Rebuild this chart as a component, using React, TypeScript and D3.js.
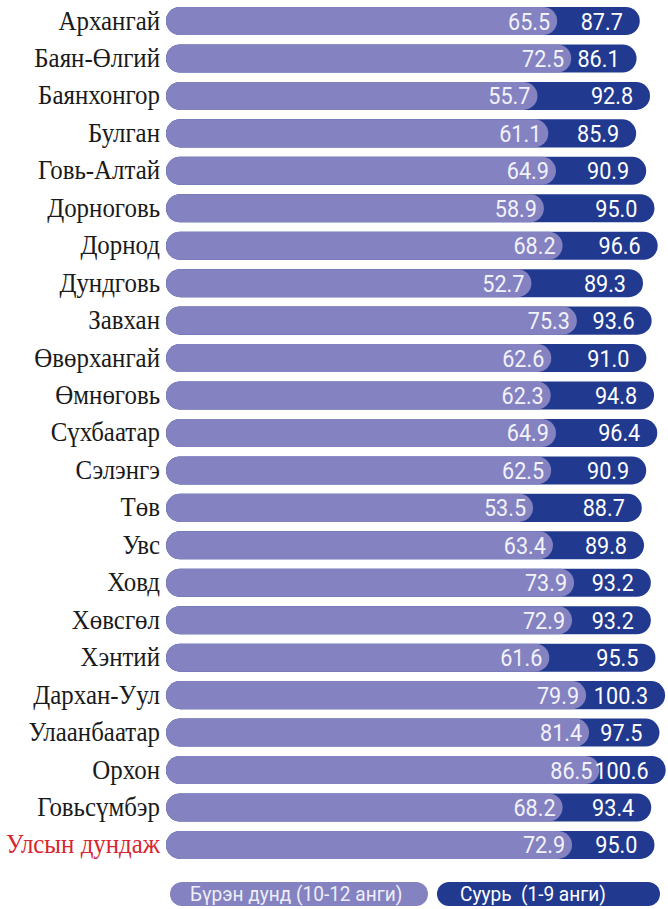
import React from "react";
import * as d3 from "d3";

const regions = [
  "Архангай", "Баян-Өлгий", "Баянхонгор", "Булган", "Говь-Алтай", "Дорноговь",
  "Дорнод", "Дундговь", "Завхан", "Өвөрхангай", "Өмнөговь", "Сүхбаатар",
  "Сэлэнгэ", "Төв", "Увс", "Ховд", "Хөвсгөл", "Хэнтий", "Дархан-Уул",
  "Улаанбаатар", "Орхон", "Говьсүмбэр", "Улсын дундаж",
];
const fullSecondary = [
  65.5, 72.5, 55.7, 61.1, 64.9, 58.9, 68.2, 52.7, 75.3, 62.6, 62.3, 64.9,
  62.5, 53.5, 63.4, 73.9, 72.9, 61.6, 79.9, 81.4, 86.5, 68.2, 72.9,
];
const basic = [
  87.7, 86.1, 92.8, 85.9, 90.9, 95.0, 96.6, 89.3, 93.6, 91.0, 94.8, 96.4,
  90.9, 88.7, 89.8, 93.2, 93.2, 95.5, 100.3, 97.5, 100.6, 93.4, 95.0,
];
const seriesNames = ["Бүрэн дунд (10-12 анги)", "Суурь  (1-9 анги)"];
const highlight = "Улсын дундаж";

const W = 668;
const H = 909;
const LIGHT = "#8482c1";
const DARK = "#21398f";

export default function App() {
  const plotLeft = 166;
  const step = 37.45;
  const y = d3
    .scaleBand<string>()
    .domain(regions)
    .range([2.3, 2.3 + regions.length * step])
    .paddingInner(0.25)
    .paddingOuter(0.125);
  const x = d3.scaleLinear().domain([0, 100]).range([425.5, 626.5]);
  const darkExtra = 38;
  const bh = y.bandwidth();
  const r = bh / 2;
  const fmt = d3.format(".1f");

  const legendY = 882;
  const legendH = 24;

  return (
    <svg
      width={W}
      height={H}
      style={{ position: "absolute", left: 0, top: 0, background: "#fff" }}
    >
      {regions.map((reg, i) => {
        const yy = y(reg)!;
        const cy = yy + bh / 2;
        const lightEnd = x(fullSecondary[i]);
        const darkEnd = x(basic[i]) + darkExtra;
        return (
          <g key={reg}>
            <text
              transform={`translate(160,${cy + 8.5}) scale(0.94,1)`}
              textAnchor="end"
              style={{ fontFamily: "'Liberation Serif', 'DejaVu Serif', 'Times New Roman', serif" }}
              fontSize={26.5}
              fill={reg === highlight ? "#d9262e" : "#1a1a1a"}
            >
              {reg}
            </text>
            <rect
              x={plotLeft}
              y={yy}
              width={darkEnd - plotLeft}
              height={bh}
              rx={r}
              ry={r}
              fill={DARK}
            />
            <rect
              x={plotLeft}
              y={yy}
              width={lightEnd - plotLeft}
              height={bh}
              rx={r}
              ry={r}
              fill={LIGHT}
            />
            <text
              transform={`translate(${lightEnd - 7},${cy + 8.5}) scale(0.9,1)`}
              textAnchor="end"
              fontFamily="Roboto, sans-serif"
              fontSize={24}
              fill="#f2f2fa"
            >
              {fmt(fullSecondary[i])}
            </text>
            <text
              transform={`translate(${darkEnd - 17},${cy + 8.5}) scale(0.9,1)`}
              textAnchor="end"
              fontFamily="Roboto, sans-serif"
              fontSize={24}
              fill="#ffffff"
            >
              {fmt(basic[i])}
            </text>
          </g>
        );
      })}
      <g>
        <rect x={170} y={legendY} width={258} height={legendH} rx={12} ry={12} fill={LIGHT} />
        <text
          transform={`translate(190,${legendY + 19}) scale(0.93,1)`}
          fontFamily="Roboto, sans-serif"
          fontSize={20.5}
          fill="#eeeef8"
        >
          {seriesNames[0]}
        </text>
        <rect x={437} y={legendY} width={223} height={legendH} rx={12} ry={12} fill={DARK} />
        <text
          transform={`translate(460,${legendY + 19}) scale(0.93,1)`}
          fontFamily="Roboto, sans-serif"
          fontSize={20.5}
          fill="#ffffff"
          style={{ whiteSpace: "pre" }}
        >
          {seriesNames[1]}
        </text>
      </g>
    </svg>
  );
}
